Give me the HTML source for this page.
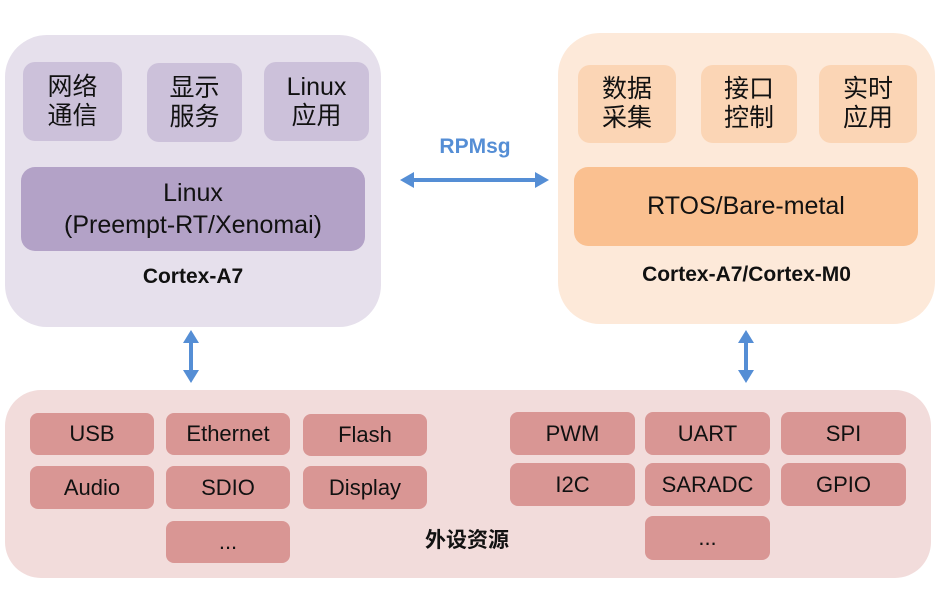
<!DOCTYPE html>
<html><head><meta charset="utf-8"><style>
body{margin:0;width:944px;height:589px;background:#fff;position:relative;overflow:hidden;font-family:"Liberation Sans","Noto Sans CJK SC",sans-serif;color:#111}
div{position:absolute;box-sizing:border-box}
.c{display:flex;align-items:center;justify-content:center;text-align:center;line-height:1.15}
.s{border-radius:12px;font-size:25px}
.p{background:#D99694;border-radius:8px;font-size:22px}
.b{font-weight:bold;font-size:21px}
</style></head><body>
<div style="left:5px;top:35px;width:376px;height:292px;background:#E6E0EC;border-radius:42px"></div>
<div class="c s" style="left:23px;top:62px;width:99px;height:79px;background:#CCC1DA">网络<br>通信</div>
<div class="c s" style="left:147px;top:63px;width:95px;height:79px;background:#CCC1DA">显示<br>服务</div>
<div class="c s" style="left:264px;top:62px;width:105px;height:79px;background:#CCC1DA">Linux<br>应用</div>
<div class="c s" style="left:21px;top:167px;width:344px;height:84px;background:#B3A2C7;border-radius:14px;line-height:1.3">Linux<br>(Preempt-RT/Xenomai)</div>
<div class="c b" style="left:5px;top:263px;width:376px;height:28px">Cortex-A7</div>

<div style="left:558px;top:33px;width:377px;height:291px;background:#FDE9D9;border-radius:42px"></div>
<div class="c s" style="left:578px;top:65px;width:98px;height:78px;background:#FBD5B5">数据<br>采集</div>
<div class="c s" style="left:701px;top:65px;width:96px;height:78px;background:#FBD5B5">接口<br>控制</div>
<div class="c s" style="left:819px;top:65px;width:98px;height:78px;background:#FBD5B5">实时<br>应用</div>
<div class="c s" style="left:574px;top:167px;width:344px;height:79px;background:#FAC090;border-radius:14px">RTOS/Bare-metal</div>
<div class="c b" style="left:558px;top:261px;width:377px;height:28px">Cortex-A7/Cortex-M0</div>

<div class="c b" style="left:420px;top:133px;width:110px;height:28px;color:#558ED5">RPMsg</div>
<svg style="position:absolute;left:0;top:0" width="944" height="589">
<g fill="#558ED5" stroke="#558ED5">
<line x1="410" y1="180" x2="539" y2="180" stroke-width="4"/>
<polygon points="400,180 414,172 414,188" stroke="none"/>
<polygon points="549,180 535,172 535,188" stroke="none"/>
<line x1="191" y1="340" x2="191" y2="373" stroke-width="4"/>
<polygon points="191,330 183,343 199,343" stroke="none"/>
<polygon points="191,383 183,370 199,370" stroke="none"/>
<line x1="746" y1="340" x2="746" y2="373" stroke-width="4"/>
<polygon points="746,330 738,343 754,343" stroke="none"/>
<polygon points="746,383 738,370 754,370" stroke="none"/>
</g></svg>

<div style="left:5px;top:390px;width:926px;height:188px;background:#F2DCDB;border-radius:36px"></div>
<div class="c p" style="left:30px;top:413px;width:124px;height:42px">USB</div>
<div class="c p" style="left:166px;top:413px;width:124px;height:42px">Ethernet</div>
<div class="c p" style="left:303px;top:414px;width:124px;height:42px">Flash</div>
<div class="c p" style="left:30px;top:466px;width:124px;height:43px">Audio</div>
<div class="c p" style="left:166px;top:466px;width:124px;height:43px">SDIO</div>
<div class="c p" style="left:303px;top:466px;width:124px;height:43px">Display</div>
<div class="c p" style="left:166px;top:521px;width:124px;height:42px">...</div>
<div class="c p" style="left:510px;top:412px;width:125px;height:43px">PWM</div>
<div class="c p" style="left:645px;top:412px;width:125px;height:43px">UART</div>
<div class="c p" style="left:781px;top:412px;width:125px;height:43px">SPI</div>
<div class="c p" style="left:510px;top:463px;width:125px;height:43px">I2C</div>
<div class="c p" style="left:645px;top:463px;width:125px;height:43px">SARADC</div>
<div class="c p" style="left:781px;top:463px;width:125px;height:43px">GPIO</div>
<div class="c p" style="left:645px;top:516px;width:125px;height:44px">...</div>
<div class="c b" style="left:400px;top:527px;width:134px;height:28px">外设资源</div>
</body></html>
